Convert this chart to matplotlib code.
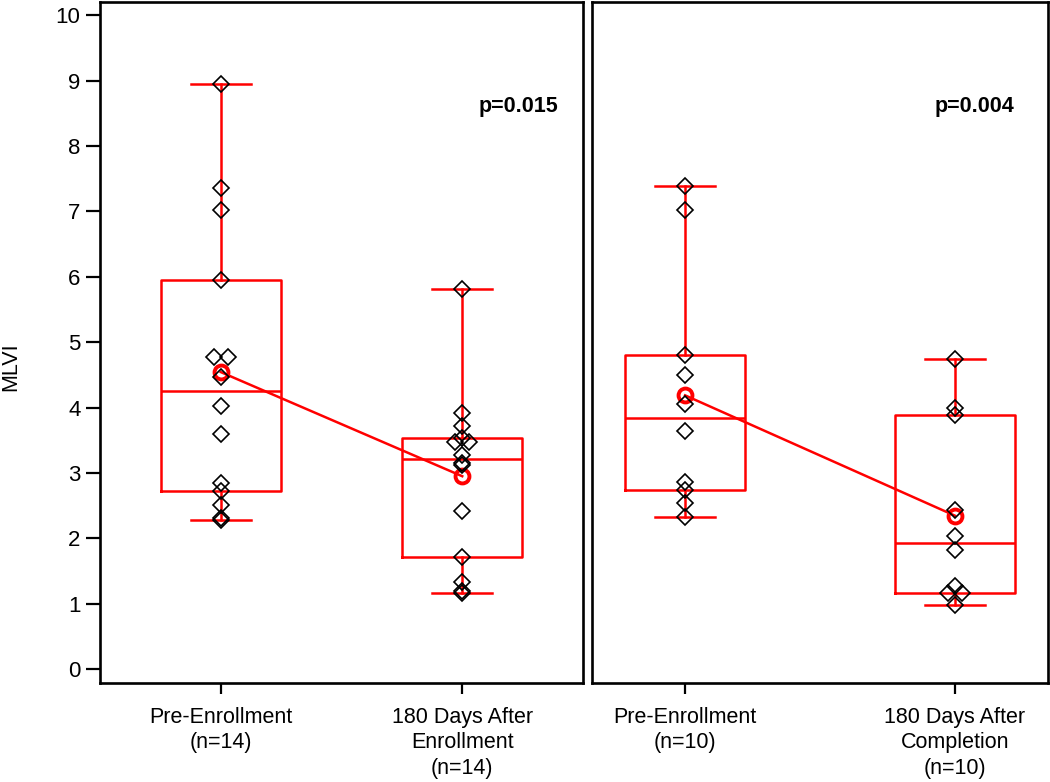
import numpy as np
import matplotlib
matplotlib.use("Agg")
import matplotlib.pyplot as plt

plt.rcParams['font.family'] = ['Liberation Sans', 'DejaVu Sans']

# MLVI values
pre_enroll = [8.94, 7.36, 7.02, 5.95, 4.78, 4.78, 4.47, 4.03, 3.60, 2.84, 2.73, 2.51, 2.31, 2.28]
post_enroll = [5.81, 3.92, 3.72, 3.53, 3.48, 3.48, 3.27, 3.15, 3.12, 2.42, 1.72, 1.33, 1.20, 1.16]
pre_compl = [7.39, 7.02, 4.81, 4.50, 4.05, 3.64, 2.86, 2.74, 2.54, 2.32]
post_compl = [4.74, 3.99, 3.88, 2.43, 2.04, 1.82, 1.28, 1.16, 1.16, 0.98]

panels = [
    {"groups": [pre_enroll, post_enroll],
     "labels": ["Pre-Enrollment\n(n=14)", "180 Days After\nEnrollment\n(n=14)"],
     "pval": "p=0.015"},
    {"groups": [pre_compl, post_compl],
     "labels": ["Pre-Enrollment\n(n=10)", "180 Days After\nCompletion\n(n=10)"],
     "pval": "p=0.004"},
]

RED = '#ff0000'
fs = 15.5

fig = plt.figure(figsize=(10.5, 7.82), dpi=100)
ax1 = fig.add_axes([100/1050, 1-683/782, 483/1050, 681/782])
ax2 = fig.add_axes([592/1050, 1-683/782, 456/1050, 681/782])
xlims = [(0.5, 2.5), (0.655, 2.345)]
pv_x = [0.867, 0.838]

for ax, p, xl, px in zip([ax1, ax2], panels, xlims, pv_x):
    ax.set_xlim(*xl)
    ax.set_ylim(-0.21, 10.2)
    ax_w = ax.get_position().width * 1050
    ppu = ax_w / (xl[1] - xl[0])  # pixels per x unit
    box_w = 120 / ppu
    cap_w = 60 / ppu

    stats = []
    means = []
    for g in p["groups"]:
        v = np.array(g)
        q1, med, q3 = np.percentile(v, [25, 50, 75], method='averaged_inverted_cdf')
        stats.append(dict(med=med, q1=q1, q3=q3, whislo=v.min(), whishi=v.max(), fliers=[]))
        means.append(v.mean())

    pos = [1, 2]
    ax.bxp(stats, positions=pos, widths=box_w, capwidths=cap_w,
           boxprops=dict(color=RED, lw=1.8),
           whiskerprops=dict(color=RED, lw=1.8),
           capprops=dict(color=RED, lw=1.8),
           medianprops=dict(color=RED, lw=1.8),
           showfliers=False, manage_ticks=False, zorder=2)

    ax.plot(pos, means, color=RED, lw=1.8, zorder=3)
    ax.plot(pos, means, 'o', ms=10, mfc='none', mec=RED, mew=2.8, zorder=4)

    # individual points, equal values nudged sideways
    for x0, g in zip(pos, p["groups"]):
        v = np.array(g)
        xs = np.full(len(v), float(x0))
        for val in np.unique(v):
            idx = np.where(v == val)[0]
            if len(idx) > 1:
                offs = (np.arange(len(idx)) - (len(idx) - 1) / 2) * 14 / ppu
                xs[idx] = x0 + offs
        ax.plot(xs, v, 'D', ms=7.8, mfc='none', mec='black', mew=1.2, zorder=5)

    ax.text(px, 0.847, p["pval"], transform=ax.transAxes, ha='center', va='center',
            fontsize=fs, fontweight='bold')

    ax.set_xticks(pos)
    ax.set_xticklabels(p["labels"], fontsize=fs, linespacing=1.3)
    ax.tick_params(axis='x', length=8, width=1.6, pad=9)
    for s in ax.spines.values():
        s.set_linewidth(1.9)

ax1.set_yticks(range(0, 11))
ax1.tick_params(axis='y', length=10, width=1.6, labelsize=fs + 0.5, pad=4)
ax2.set_yticks([])
fig.text(11/1050, 1-367/782, 'MLVI', rotation=90, ha='center', va='center', fontsize=fs)

fig.savefig('out.png', dpi=100)
